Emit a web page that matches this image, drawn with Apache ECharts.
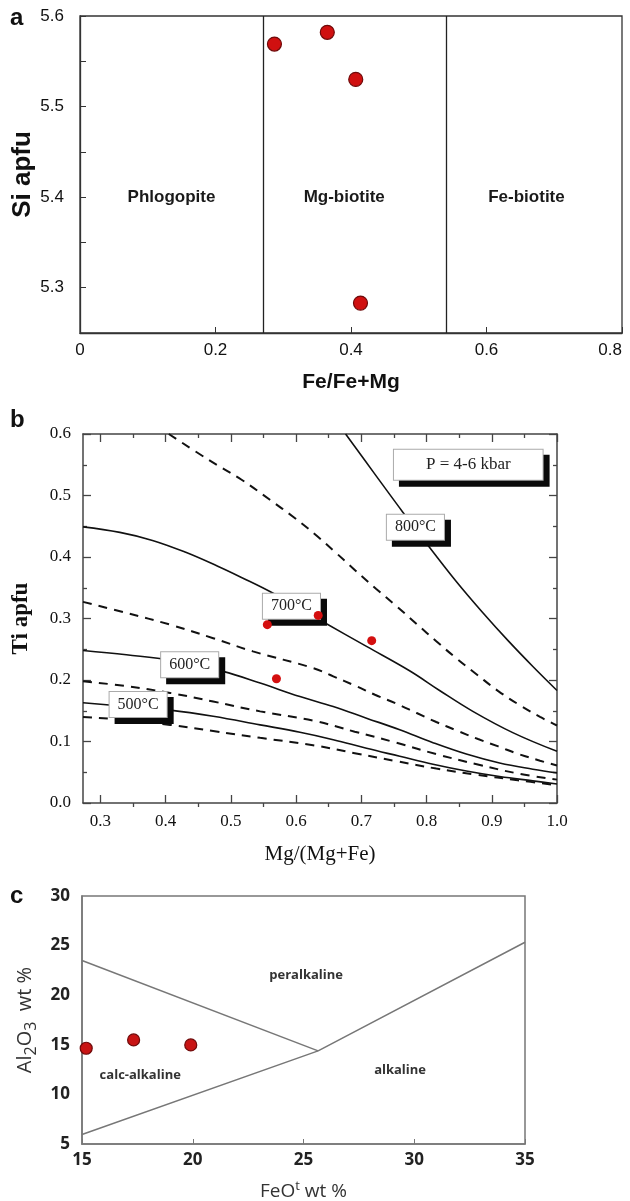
<!DOCTYPE html>
<html>
<head>
<meta charset="utf-8">
<script src="https://cdn.jsdelivr.net/npm/echarts@6/dist/echarts.min.js"></script>
<style>
html, body { margin: 0; padding: 0; background: #fff; }
#main { width: 630px; height: 1201px; }
</style>
</head>
<body>
<div id="main"></div>
<script>
// ---- panel a : Si vs Fe/(Fe+Mg)
var aFe = [0.287, 0.365, 0.407, 0.414];
var aSi = [5.569, 5.582, 5.530, 5.283];
var aBounds = [0.272, 0.538];
var aFieldNames = ['Phlogopite', 'Mg-biotite', 'Fe-biotite'];
var aFieldX = [0.135, 0.39, 0.659];
var aFieldY = [5.40, 5.40, 5.40];
var aYLabels = [5.3, 5.4, 5.5, 5.6];
var aYTicks = [5.3, 5.35, 5.4, 5.45, 5.5, 5.55, 5.6];

// ---- panel b : Ti vs Mg/(Mg+Fe), isotherms
var bMg = [0.556, 0.634, 0.716, 0.570];
var bTi = [0.290, 0.305, 0.264, 0.202];
var bXMajor = [0.3, 0.4, 0.5, 0.6, 0.7, 0.8, 0.9, 1.0];
var bXMinor = [0.35, 0.45, 0.55, 0.65, 0.75, 0.85, 0.95];
var iso800 = [[0.676,0.600],[0.720,0.536],[0.764,0.4725],[0.803,0.418],[0.845,0.361],[0.885,0.311],[0.925,0.264],[0.963,0.222],[1.0,0.183]];
var iso700 = [[0.2735,0.449],[0.33,0.440],[0.38,0.427],[0.43,0.408],[0.48,0.385],[0.514,0.368],[0.565,0.341],[0.644,0.293],[0.708,0.2546],[0.774,0.215],[0.82,0.183],[0.871,0.149],[0.933,0.114],[1.0,0.084]];
var iso600 = [[0.2735,0.248],[0.34,0.241],[0.41,0.232],[0.488,0.214],[0.545,0.195],[0.606,0.173],[0.657,0.157],[0.708,0.138],[0.759,0.119],[0.810,0.098],[0.861,0.0795],[0.912,0.065],[0.963,0.055],[1.0,0.049]];
var iso500 = [[0.2735,0.163],[0.34,0.157],[0.407,0.151],[0.473,0.141],[0.545,0.127],[0.606,0.115],[0.657,0.103],[0.708,0.089],[0.759,0.076],[0.810,0.063],[0.861,0.052],[0.912,0.043],[0.963,0.036],[1.0,0.031]];
var dash1 = [[0.405,0.600],[0.466,0.558],[0.516,0.526],[0.56,0.493],[0.596,0.465],[0.629,0.437],[0.66,0.408],[0.69,0.379],[0.723,0.348],[0.754,0.320],[0.785,0.291],[0.815,0.263],[0.846,0.235],[0.877,0.209],[0.91,0.182],[0.943,0.159],[0.974,0.140],[1.0,0.126]];
var dash2 = [[0.2735,0.327],[0.34,0.309],[0.407,0.290],[0.473,0.268],[0.534,0.2465],[0.626,0.2195],[0.657,0.206],[0.690,0.191],[0.721,0.176],[0.754,0.1615],[0.785,0.1463],[0.815,0.1317],[0.846,0.118],[0.879,0.104],[0.91,0.092],[0.94,0.080],[0.974,0.0688],[1.0,0.061]];
var dash3 = [[0.2735,0.198],[0.34,0.190],[0.407,0.179],[0.473,0.165],[0.545,0.149],[0.626,0.134],[0.69,0.116],[0.754,0.098],[0.815,0.0795],[0.877,0.063],[0.94,0.048],[1.0,0.038]];
var dash4 = [[0.2735,0.140],[0.34,0.135],[0.407,0.127],[0.473,0.117],[0.545,0.106],[0.626,0.094],[0.69,0.081],[0.754,0.068],[0.815,0.056],[0.877,0.046],[0.94,0.037],[1.0,0.029]];
var bTagText = ['800°C', '700°C', '600°C', '500°C'];
var bTagX = [0.783, 0.593, 0.437, 0.358];
var bTagY = [0.4485, 0.320, 0.225, 0.160];
var bPressure = 'P = 4-6 kbar';
var bPressureXY = [0.864, 0.550];

// ---- panel c : Al2O3 vs FeOt
var cFeO = [15.19, 17.33, 19.91];
var cAl = [14.65, 15.49, 14.99];
var cUpperLine = [[15, 23.5], [25.66, 14.39]];
var cLowerLine = [[15, 5.95], [25.66, 14.39], [35, 25.34]];
var cFieldNames = ['peralkaline', 'calc-alkaline', 'alkaline'];
var cFieldX = [25.12, 17.63, 29.36];
var cFieldY = [22.0, 11.97, 12.43];

function zip(xs, ys) {
    var out = [];
    for (var i = 0; i < xs.length; i++) out.push([xs[i], ys[i]]);
    return out;
}
function tags(names, xs, ys) {
    var out = [];
    for (var i = 0; i < names.length; i++) out.push({name: names[i], value: [xs[i], ys[i]]});
    return out;
}

var arial = "'Liberation Sans', Arial, sans-serif";
var serif = "'Liberation Serif', 'Times New Roman', serif";
var sans = "'Open Sans', 'Liberation Sans', sans-serif";

function isoLine(data, dashed) {
    return {
        type: 'line',
        xAxisIndex: 1,
        yAxisIndex: 1,
        data: data,
        smooth: 0.4,
        symbol: 'none',
        silent: true,
        lineStyle: dashed ? {color: '#111', width: 2, type: [9, 7]} : {color: '#111', width: 1.6}
    };
}

// a boxed tag: black offset box behind, white box with thin grey border in front
function tagSeries(data, fontSize, padding, shadow) {
    return {
        type: 'scatter', xAxisIndex: 1, yAxisIndex: 1, symbolSize: 0, silent: true,
        z: shadow ? 7 : 8,
        data: data,
        itemStyle: {opacity: 1},
        label: {
            show: true,
            position: 'inside',
            formatter: '{b}',
            fontFamily: serif,
            fontSize: fontSize,
            lineHeight: fontSize + 1,
            color: shadow ? 'rgba(0,0,0,0)' : '#222',
            backgroundColor: shadow ? '#0a0a0a' : '#fff',
            borderColor: shadow ? '#0a0a0a' : '#aaa',
            borderWidth: 1,
            padding: padding,
            offset: shadow ? [6, 6] : [0, 0]
        }
    };
}

var chart = echarts.init(document.getElementById('main'));

var option = {
    animation: false,
    backgroundColor: '#fff',
    grid: [
        {left: 80, top: 16, width: 542, height: 317, show: true, borderColor: '#333', borderWidth: 1.3, outerBoundsMode: 'none'},
        {left: 83, top: 434, width: 474, height: 369, outerBoundsMode: 'none'},
        {left: 82, top: 896, width: 443, height: 248, show: true, borderColor: '#777', borderWidth: 1.5, outerBoundsMode: 'none'}
    ],
    xAxis: [
        {
            gridIndex: 0, type: 'value', min: 0, max: 0.8, interval: 0.2,
            axisLine: {lineStyle: {color: '#333', width: 1.3}},
            axisTick: {inside: true, length: 6, lineStyle: {color: '#333'}},
            axisLabel: {fontFamily: arial, fontSize: 17, color: '#111', margin: 9, alignMaxLabel: 'right',
                formatter: function(v) { return v === 0 ? '0' : v.toFixed(1); }},
            splitLine: {show: false},
            name: 'Fe/Fe+Mg', nameLocation: 'middle', nameGap: 39,
            nameTextStyle: {fontFamily: arial, fontWeight: 'bold', fontSize: 21, color: '#111'}
        },
        {
            gridIndex: 1, type: 'value', min: 0.2735, max: 1.0,
            axisLine: {lineStyle: {color: '#444', width: 1.5}},
            axisTick: {inside: true, length: 8, customValues: bXMajor, lineStyle: {color: '#444', width: 1.3}},
            axisLabel: {customValues: bXMajor, fontFamily: serif, fontSize: 17, color: '#111', margin: 10,
                formatter: function(v) { return v.toFixed(1); }},
            splitLine: {show: false},
            name: 'Mg/(Mg+Fe)', nameLocation: 'middle', nameGap: 41,
            nameTextStyle: {fontFamily: serif, fontSize: 21, color: '#111'}
        },
        {
            gridIndex: 1, type: 'value', min: 0.2735, max: 1.0,
            axisLine: {show: false},
            axisTick: {inside: true, length: 4, customValues: bXMinor, lineStyle: {color: '#444', width: 1.3}},
            axisLabel: {show: false}, splitLine: {show: false}
        },
        {
            gridIndex: 1, type: 'value', position: 'top', min: 0.2735, max: 1.0,
            axisLine: {lineStyle: {color: '#444', width: 1.5}},
            axisTick: {inside: true, length: 8, customValues: bXMajor, lineStyle: {color: '#444', width: 1.3}},
            axisLabel: {show: false}, splitLine: {show: false}
        },
        {
            gridIndex: 1, type: 'value', position: 'top', min: 0.2735, max: 1.0,
            axisLine: {show: false},
            axisTick: {inside: true, length: 4, customValues: bXMinor, lineStyle: {color: '#444', width: 1.3}},
            axisLabel: {show: false}, splitLine: {show: false}
        },
        {
            gridIndex: 2, type: 'value', min: 15, max: 35, interval: 5,
            axisLine: {lineStyle: {color: '#777', width: 1.5}},
            axisTick: {inside: true, length: 5, lineStyle: {color: '#777'}},
            axisLabel: {fontFamily: sans, fontWeight: 'bold', fontSize: 17, color: '#222', margin: 8},
            splitLine: {show: false},
            name: '{a|FeO}{t|t}{a| wt %}', nameLocation: 'middle', nameGap: 36,
            nameTextStyle: {
                rich: {
                    a: {fontFamily: sans, fontSize: 19, color: '#333', lineHeight: 24},
                    t: {fontFamily: sans, fontSize: 13, color: '#333', lineHeight: 24, verticalAlign: 'top'}
                }
            }
        }
    ],
    yAxis: [
        {
            gridIndex: 0, type: 'value', min: 5.25, max: 5.6,
            axisLine: {lineStyle: {color: '#333', width: 1.3}},
            axisTick: {inside: true, length: 6, customValues: aYTicks, lineStyle: {color: '#333'}},
            axisLabel: {customValues: aYLabels, fontFamily: arial, fontSize: 17, color: '#111', margin: 16,
                formatter: function(v) { return v.toFixed(1); }},
            splitLine: {show: false},
            name: 'Si apfu', nameLocation: 'middle', nameGap: 44, nameMoveOverlap: false,
            nameTextStyle: {fontFamily: arial, fontWeight: 'bold', fontSize: 26, color: '#111'}
        },
        {
            gridIndex: 1, type: 'value', min: 0, max: 0.6, interval: 0.1,
            axisLine: {lineStyle: {color: '#444', width: 1.5}},
            axisTick: {inside: true, length: 8, lineStyle: {color: '#444', width: 1.3}},
            minorTick: {show: true, splitNumber: 2, length: 4, lineStyle: {color: '#444', width: 1.3}},
            axisLabel: {fontFamily: serif, fontSize: 17, color: '#111', margin: 12,
                formatter: function(v) { return v.toFixed(1); }},
            splitLine: {show: false},
            name: 'Ti apfu', nameLocation: 'middle', nameGap: 50,
            nameTextStyle: {fontFamily: serif, fontWeight: 'bold', fontSize: 23, color: '#111'}
        },
        {
            gridIndex: 1, type: 'value', position: 'right', min: 0, max: 0.6, interval: 0.1,
            axisLine: {lineStyle: {color: '#444', width: 1.5}},
            axisTick: {inside: true, length: 8, lineStyle: {color: '#444', width: 1.3}},
            minorTick: {show: true, splitNumber: 2, length: 4, lineStyle: {color: '#444', width: 1.3}},
            axisLabel: {show: false}, splitLine: {show: false}
        },
        {
            gridIndex: 2, type: 'value', min: 5, max: 30, interval: 5,
            axisLine: {lineStyle: {color: '#777', width: 1.5}},
            axisTick: {show: false},
            axisLabel: {fontFamily: sans, fontWeight: 'bold', fontSize: 17, color: '#222', margin: 12},
            splitLine: {show: false},
            name: '{a|Al}{s|2}{a|O}{s|3}{a|  wt %}', nameLocation: 'middle', nameGap: 40,
            nameTextStyle: {
                rich: {
                    a: {fontFamily: sans, fontSize: 20, color: '#333', lineHeight: 28},
                    s: {fontFamily: sans, fontSize: 16, color: '#333', lineHeight: 28, verticalAlign: 'bottom'}
                }
            }
        }
    ],
    graphic: [
        {type: 'text', left: 10, top: 6, style: {text: 'a', fontFamily: arial, fontWeight: 'bold', fontSize: 24, fill: '#111'}},
        {type: 'text', left: 10, top: 408, style: {text: 'b', fontFamily: arial, fontWeight: 'bold', fontSize: 24, fill: '#111'}},
        {type: 'text', left: 10, top: 884, style: {text: 'c', fontFamily: arial, fontWeight: 'bold', fontSize: 24, fill: '#111'}}
    ],
    series: [
        // panel a
        {
            type: 'scatter', xAxisIndex: 0, yAxisIndex: 0,
            data: zip(aFe, aSi), symbolSize: 14,
            itemStyle: {color: '#d01010', borderColor: '#6e0a0a', borderWidth: 1.2, opacity: 1},
            markLine: {
                silent: true, symbol: ['none', 'none'], label: {show: false},
                lineStyle: {color: '#222', width: 1.3, type: 'solid'},
                data: [{xAxis: aBounds[0]}, {xAxis: aBounds[1]}]
            },
            z: 5
        },
        {
            type: 'scatter', xAxisIndex: 0, yAxisIndex: 0, symbolSize: 0, silent: true,
            data: tags(aFieldNames, aFieldX, aFieldY),
            itemStyle: {opacity: 1},
            label: {show: true, position: 'inside', formatter: '{b}', fontFamily: arial, fontWeight: 'bold', fontSize: 17, color: '#1a1a1a'}
        },
        // panel b
        isoLine(dash1, true),
        isoLine(dash2, true),
        isoLine(dash3, true),
        isoLine(dash4, true),
        isoLine(iso800, false),
        isoLine(iso700, false),
        isoLine(iso600, false),
        isoLine(iso500, false),
        tagSeries(tags(bTagText, bTagX, bTagY), 16, [4, 8], true),
        tagSeries(tags(bTagText, bTagX, bTagY), 16, [4, 8], false),
        tagSeries([{name: bPressure, value: bPressureXY}], 17, [6, 32], true),
        tagSeries([{name: bPressure, value: bPressureXY}], 17, [6, 32], false),
        {
            type: 'scatter', xAxisIndex: 1, yAxisIndex: 1, z: 10,
            data: zip(bMg, bTi), symbolSize: 9,
            itemStyle: {color: '#d40f0f', opacity: 1}
        },
        // panel c
        {
            type: 'line', xAxisIndex: 5, yAxisIndex: 3, data: cUpperLine, symbol: 'none', silent: true,
            lineStyle: {color: '#777', width: 1.5}
        },
        {
            type: 'line', xAxisIndex: 5, yAxisIndex: 3, data: cLowerLine, symbol: 'none', silent: true,
            lineStyle: {color: '#777', width: 1.5}
        },
        {
            type: 'scatter', xAxisIndex: 5, yAxisIndex: 3, data: zip(cFeO, cAl), symbolSize: 12,
            itemStyle: {color: '#c81414', borderColor: '#6e0a0a', borderWidth: 1.2, opacity: 1}
        },
        {
            type: 'scatter', xAxisIndex: 5, yAxisIndex: 3, symbolSize: 0, silent: true,
            data: tags(cFieldNames, cFieldX, cFieldY),
            itemStyle: {opacity: 1},
            label: {show: true, position: 'inside', formatter: '{b}', fontFamily: sans, fontWeight: 'bold', fontSize: 13, color: '#333'}
        }
    ]
};
chart.setOption(option);
</script>
</body>
</html>
